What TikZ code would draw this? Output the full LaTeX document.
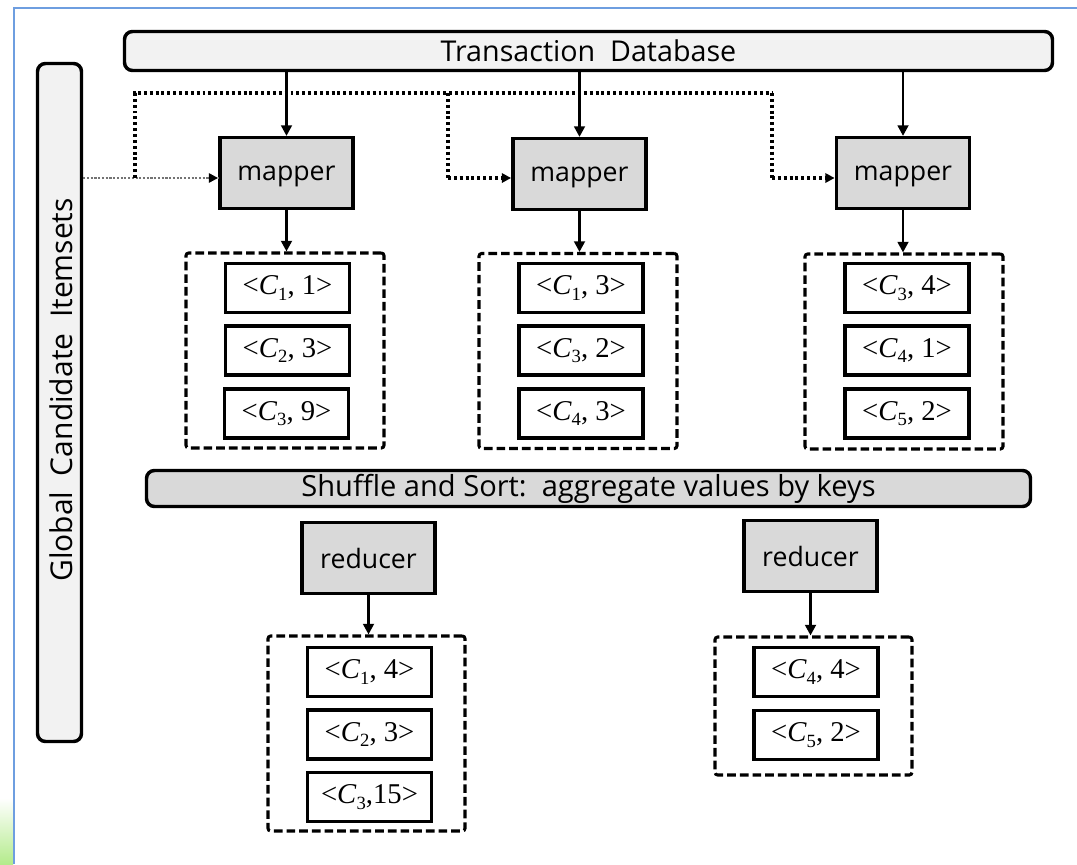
\documentclass[tikz,border=0pt]{standalone}
\usepackage{fontspec}
\setmainfont{Liberation Serif}
\newfontfamily\labelsans{Open Sans}
\usetikzlibrary{arrows.meta}
\definecolor{frameblue}{HTML}{6E9EE0}
\definecolor{barlight}{HTML}{F2F2F2}
\definecolor{stagegray}{HTML}{D9D9D9}
\definecolor{leafgreen}{HTML}{B4EB8C}
\newcommand\kvsub[1]{\raisebox{-4pt}{\fontsize{14}{14}\selectfont #1}}
\newcommand\kv[2]{<\textit{C}\kvsub{#1}, #2>}
\newcommand\sanslabel{\labelsans\fontsize{20}{24}\selectfont}
\newcommand\kvlabel{\fontsize{21.5}{25}\selectfont}
\begin{document}
\begin{tikzpicture}[x=0.75pt,y=-0.75pt,
  bar/.style={draw, line width=2.6pt, rounded corners=6pt, inner sep=0pt},
  stage/.style={draw, line width=2.6pt, fill=stagegray, minimum width=100pt, minimum height=53pt, inner sep=0pt, text depth=0pt, font=\sanslabel},
  kvbox/.style={draw, line width=2.7pt, fill=white, minimum width=93pt, minimum height=37pt, inner sep=0pt, font=\kvlabel},
  group/.style={draw, line width=2.3pt, dash pattern=on 6.5pt off 3pt, rounded corners=2pt, inner sep=0pt},
  flow/.style={line width=2.1pt, -{Triangle[length=8pt,width=8pt]}},
  feed/.style={line width=2.5pt, dash pattern=on 2.2pt off 2.2pt},
  feedtip/.style={-{Triangle[length=7pt,width=7pt,color=black,fill=black]}},
  hint/.style={line width=2pt, black!55, dash pattern=on 1.6pt off 1.2pt}
]
\useasboundingbox (0,0) rectangle (1077,864);
% page frame and corner decoration
\shade[top color=white, bottom color=leafgreen] (0,798) rectangle (13,864);
\draw[frameblue, line width=1.6pt] (14,864) -- (14,8) -- (1077,8);

% bars
\node[bar, fill=barlight, minimum width=696pt, minimum height=29.25pt, font=\labelsans\fontsize{21.5}{24}\selectfont] (db) at (588.5,51) {Transaction\ \ Database};
\node[bar, fill=barlight, minimum width=508.5pt, minimum height=33pt, rotate=90] (gci) at (59.5,402.5) {};
\node[font=\labelsans\fontsize{22.5}{26}\selectfont, rotate=90] (gcitext) at (61,390) {Global\ \ Candidate\ \ Itemsets};
\node[bar, fill=stagegray, minimum width=663pt, minimum height=27pt, font=\labelsans\fontsize{21.8}{24}\selectfont] (shuf) at (588.5,488.5) {Shuffle and Sort:\ \ aggregate values by keys};

% mappers
\node[stage] (m1) at (286.5,173) {mapper};
\node[stage] (m2) at (579.5,174) {mapper};
\node[stage] (m3) at (903,173) {mapper};

% reducers
\node[stage] (r1) at (368.5,558) {reducer};
\node[stage] (r2) at (810.5,556) {reducer};

% groups of key/value pairs
\node[group, minimum width=148.5pt, minimum height=146.25pt] (g1) at (285,350.5) {};
\node[group, minimum width=148.5pt, minimum height=146.25pt] (g2) at (578,351) {};
\node[group, minimum width=148.5pt, minimum height=146.25pt] (g3) at (904,351.5) {};
\node[group, minimum width=147.75pt, minimum height=146.25pt] (g4) at (366.5,733.5) {};
\node[group, minimum width=147.75pt, minimum height=103.5pt] (g5) at (813.5,706) {};

\node[kvbox] (k11) at (287.5,288) {\kv{1}{1}};
\node[kvbox] (k12) at (287.5,350.5) {\kv{2}{3}};
\node[kvbox] (k13) at (286.5,413.5) {\kv{3}{9}};

\node[kvbox] (k21) at (581,288) {\kv{1}{3}};
\node[kvbox] (k22) at (581,350.5) {\kv{3}{2}};
\node[kvbox] (k23) at (581,413.5) {\kv{4}{3}};

\node[kvbox] (k31) at (907,288) {\kv{3}{4}};
\node[kvbox] (k32) at (907,350.5) {\kv{4}{1}};
\node[kvbox] (k33) at (907,413.5) {\kv{5}{2}};

\node[kvbox] (k41) at (369.5,672) {\kv{1}{4}};
\node[kvbox] (k42) at (369.5,734.5) {\kv{2}{3}};
\node[kvbox] (k43) at (369.5,797) {<\textit{C}\kvsub{3},15>};

\node[kvbox] (k51) at (816,672) {\kv{4}{4}};
\node[kvbox] (k52) at (816,735) {\kv{5}{2}};

% data flow
\draw[flow] (m1.north |- db.south) -- (m1.north);
\draw[flow] (m2.north |- db.south) -- (m2.north);
\draw[flow] (m3.north |- db.south) -- (m3.north);
\draw[flow] (m1.south) -- (m1.south |- g1.north);
\draw[flow] (m2.south) -- (m2.south |- g2.north);
\draw[flow] (m3.south) -- (m3.south |- g3.north);
\draw[flow] (r1.south) -- (r1.south |- g4.north);
\draw[flow] (r2.south) -- (r2.south |- g5.north);

% candidate itemsets fed to every mapper
\coordinate (fork) at (135,178);
\coordinate (bus) at (135,93);
\coordinate (b2) at (448,93);
\coordinate (b3) at (772,93);
\draw[hint] (gci.south |- fork) -- (fork -| m1.west);
\draw[feedtip, line width=1.6pt] ([xshift=-4pt]fork -| m1.west) -- (fork -| m1.west);
\draw[feed] (fork) -- (bus) -- (b3);
\draw[feed] (b2) -- (b2 |- fork);
\draw[feed, feedtip] (b2 |- fork) -- (fork -| m2.west);
\draw[feed] (b3) -- (b3 |- fork);
\draw[feed, feedtip] (b3 |- fork) -- (fork -| m3.west);
\end{tikzpicture}
\end{document}
